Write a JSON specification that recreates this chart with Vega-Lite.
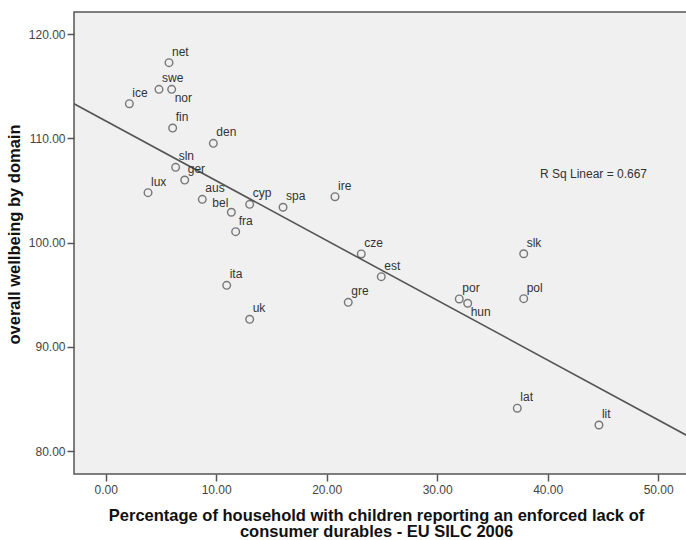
{
  "$schema": "https://vega.github.io/schema/vega-lite/v6.json",
  "autosize": "none",
  "width": 614,
  "height": 462,
  "padding": {"left": 74, "top": 12, "right": 0, "bottom": 66},
  "background": "#ffffff",
  "config": {
    "font": "Liberation Sans",
    "view": {"fill": "#f0f0f0", "stroke": "#555555", "strokeWidth": 1.5},
    "axis": {
      "domain": false, "grid": false,
      "tickColor": "#555555", "tickSize": 7, "tickWidth": 1.5,
      "labelColor": "#444444", "labelFontSize": 12, "labelFont": "Liberation Sans",
      "titleFont": "Liberation Sans", "titleFontWeight": "bold", "titleColor": "#111111"
    }
  },
  "datasets": {
    "countries": [
      {"country": "net", "lack": 5.73, "wellbeing": 117.27},
      {"country": "swe", "lack": 4.82, "wellbeing": 114.71},
      {"country": "nor", "lack": 5.97, "wellbeing": 114.71},
      {"country": "ice", "lack": 2.14, "wellbeing": 113.33},
      {"country": "fin", "lack": 6.06, "wellbeing": 111.0},
      {"country": "den", "lack": 9.74, "wellbeing": 109.53},
      {"country": "sln", "lack": 6.33, "wellbeing": 107.23},
      {"country": "ger", "lack": 7.15, "wellbeing": 106.01},
      {"country": "lux", "lack": 3.83, "wellbeing": 104.8},
      {"country": "aus", "lack": 8.74, "wellbeing": 104.16},
      {"country": "bel", "lack": 11.37, "wellbeing": 102.92},
      {"country": "fra", "lack": 11.76, "wellbeing": 101.06},
      {"country": "cyp", "lack": 13.03, "wellbeing": 103.68},
      {"country": "spa", "lack": 16.05, "wellbeing": 103.4},
      {"country": "ire", "lack": 20.75, "wellbeing": 104.41},
      {"country": "ita", "lack": 10.95, "wellbeing": 95.91},
      {"country": "uk", "lack": 13.03, "wellbeing": 92.65},
      {"country": "cze", "lack": 23.13, "wellbeing": 98.92},
      {"country": "gre", "lack": 21.95, "wellbeing": 94.28},
      {"country": "est", "lack": 24.94, "wellbeing": 96.74},
      {"country": "por", "lack": 32.0, "wellbeing": 94.6},
      {"country": "hun", "lack": 32.76, "wellbeing": 94.19},
      {"country": "slk", "lack": 37.83, "wellbeing": 98.94},
      {"country": "pol", "lack": 37.83, "wellbeing": 94.63},
      {"country": "lat", "lack": 37.25, "wellbeing": 84.12},
      {"country": "lit", "lack": 44.64, "wellbeing": 82.51}
    ],
    "fit": [
      {"lack": -2.87, "wellbeing": 113.33},
      {"lack": 52.7, "wellbeing": 81.45}
    ],
    "annot": [
      {"lack": 39.3, "wellbeing": 106.59, "label": "R Sq Linear = 0.667"}
    ]
  },
  "encoding": {
    "x": {
      "field": "lack", "type": "quantitative",
      "scale": {"domain": [-2.87, 52.7], "nice": false, "zero": false},
      "axis": {
        "values": [0, 10, 20, 30, 40, 50], "format": ".2f",
        "labelPadding": 3, "titlePadding": 12, "titleFontSize": 16.5,
        "titleLineHeight": 16.5, "titleX": 302,
        "title": ["Percentage of household with children reporting an enforced lack of", "consumer durables - EU SILC 2006"]
      }
    },
    "y": {
      "field": "wellbeing", "type": "quantitative",
      "scale": {"domain": [77.81, 122.13], "nice": false, "zero": false},
      "axis": {
        "values": [80, 90, 100, 110, 120], "format": ".2f",
        "labelPadding": 2, "titlePadding": 6, "titleFontSize": 16.5,
        "titleY": 222,
        "title": "overall wellbeing by domain"
      }
    }
  },
  "layer": [
    {
      "data": {"name": "fit"},
      "mark": {"type": "line", "color": "#555555", "strokeWidth": 1.6, "clip": true}
    },
    {
      "data": {"name": "countries"},
      "mark": {"type": "point", "shape": "circle", "filled": false, "size": 58, "stroke": "#444444", "strokeWidth": 1.4}
    },
    {
      "data": {"name": "countries"},
      "transform": [{"filter": {"not": {"field": "country", "oneOf": ["nor", "hun", "bel"]}}}],
      "mark": {"type": "text", "align": "left", "baseline": "bottom", "dx": 3, "dy": -4, "fontSize": 12, "color": "#333333"},
      "encoding": {"text": {"field": "country"}}
    },
    {
      "data": {"name": "countries"},
      "transform": [{"filter": {"field": "country", "oneOf": ["nor", "hun"]}}],
      "mark": {"type": "text", "align": "left", "baseline": "top", "dx": 3, "dy": 4, "fontSize": 12, "color": "#333333"},
      "encoding": {"text": {"field": "country"}}
    },
    {
      "data": {"name": "countries"},
      "transform": [{"filter": {"field": "country", "oneOf": ["bel"]}}],
      "mark": {"type": "text", "align": "right", "baseline": "bottom", "dx": -3, "dy": -2, "fontSize": 12, "color": "#333333"},
      "encoding": {"text": {"field": "country"}}
    },
    {
      "data": {"name": "annot"},
      "mark": {"type": "text", "align": "left", "baseline": "middle", "fontSize": 12, "color": "#333333"},
      "encoding": {"text": {"field": "label"}}
    }
  ]
}
